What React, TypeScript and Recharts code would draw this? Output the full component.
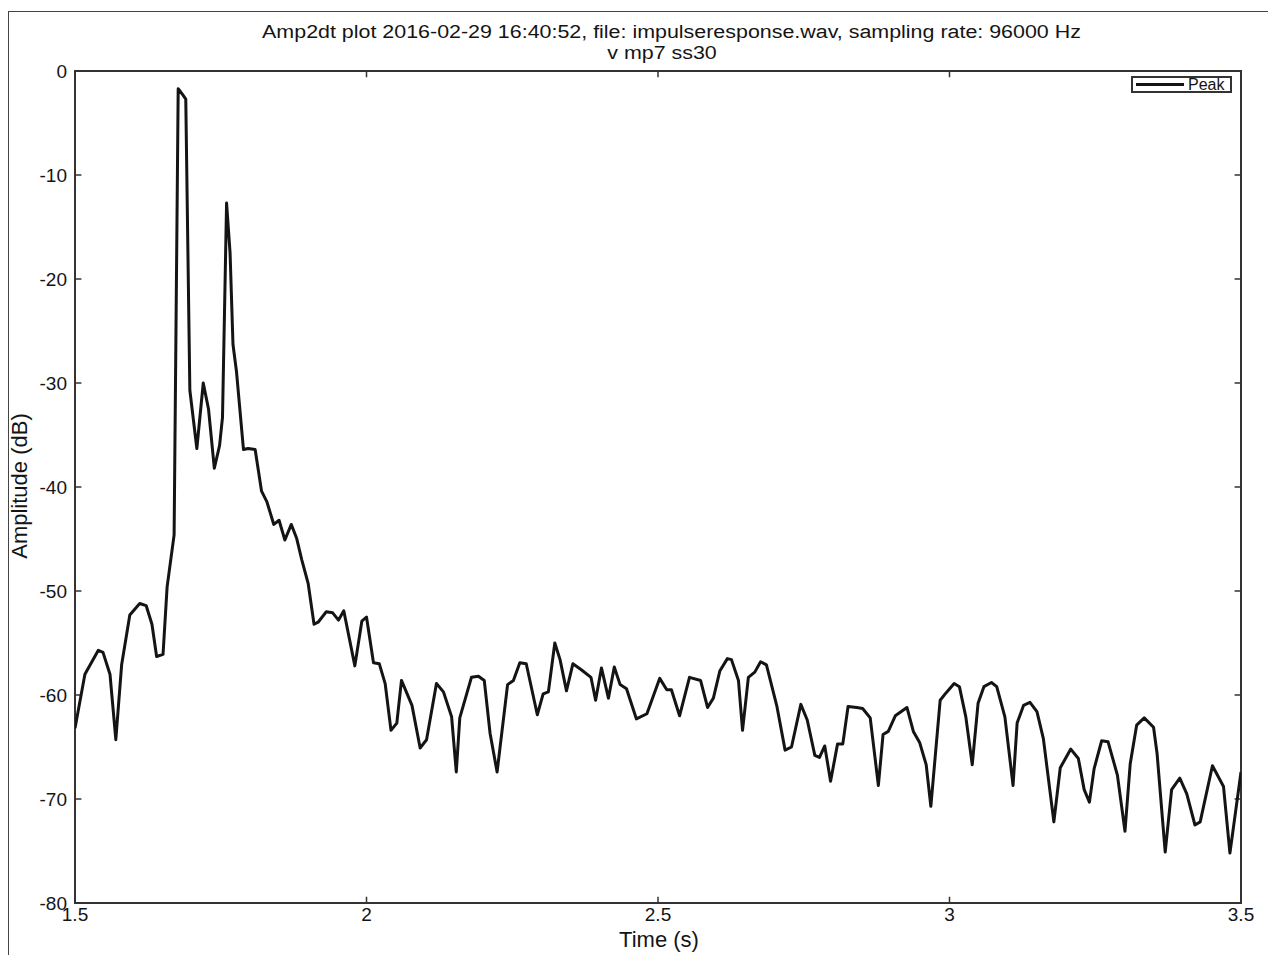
import React from "react";
import { LineChart, Line, XAxis, YAxis, Legend, ReferenceArea, ReferenceLine } from "recharts";

// time axis (s)
const timeS = [
  1.5, 1.517, 1.54, 1.548, 1.56, 1.57, 1.58, 1.594, 1.611, 1.622,
  1.632, 1.64, 1.651, 1.658, 1.67, 1.677, 1.685, 1.69, 1.697, 1.709,
  1.72, 1.729, 1.739, 1.748, 1.753, 1.76, 1.766, 1.771, 1.777, 1.789,
  1.797, 1.809, 1.82, 1.829, 1.841, 1.85, 1.86, 1.871, 1.88, 1.889,
  1.9, 1.91, 1.917, 1.931, 1.942, 1.952, 1.961, 1.98, 1.992, 2.0,
  2.012, 2.022, 2.032, 2.042, 2.052, 2.06, 2.078, 2.092, 2.103, 2.12,
  2.132, 2.146, 2.154, 2.16, 2.18, 2.192, 2.202, 2.212, 2.224, 2.242,
  2.252, 2.263, 2.274, 2.293, 2.303, 2.312, 2.323, 2.332, 2.343, 2.354,
  2.369, 2.385, 2.393, 2.403, 2.415, 2.425, 2.435, 2.446, 2.463, 2.481,
  2.503, 2.515, 2.523, 2.537, 2.554, 2.573, 2.585, 2.595, 2.606, 2.619,
  2.626, 2.638, 2.645, 2.655, 2.666, 2.676, 2.686, 2.704, 2.718, 2.729,
  2.745, 2.756, 2.769, 2.777, 2.786, 2.796, 2.808, 2.817, 2.826, 2.841,
  2.851, 2.864, 2.878, 2.886, 2.895, 2.907, 2.927, 2.938, 2.949, 2.96,
  2.968, 2.984, 2.994, 3.008, 3.017, 3.028, 3.039, 3.049, 3.059, 3.072,
  3.081, 3.095, 3.109, 3.116, 3.127, 3.138, 3.15, 3.161, 3.179, 3.19,
  3.208, 3.221, 3.231, 3.24, 3.248, 3.261, 3.272, 3.288, 3.301, 3.31,
  3.321, 3.334, 3.35, 3.356, 3.37, 3.381, 3.395, 3.407, 3.421, 3.43,
  3.451, 3.47, 3.481, 3.5,
];

// peak amplitude (dB)
const peakDb = [
  -63.2, -58.0, -55.7, -55.9, -58.0, -64.3, -57.1, -52.3, -51.2, -51.4,
  -53.2, -56.3, -56.1, -49.6, -44.6, -1.7, -2.3, -2.7, -30.7, -36.3,
  -30.0, -32.5, -38.2, -36.0, -33.3, -12.7, -17.5, -26.3, -28.9, -36.4,
  -36.3, -36.4, -40.4, -41.4, -43.6, -43.2, -45.1, -43.6, -44.9, -47.0,
  -49.3, -53.2, -53.0, -52.0, -52.1, -52.8, -51.9, -57.2, -52.9, -52.5,
  -56.9, -57.0, -58.9, -63.4, -62.7, -58.6, -61.0, -65.1, -64.3, -58.9,
  -59.7, -62.1, -67.4, -62.2, -58.3, -58.2, -58.6, -63.7, -67.4, -59.0,
  -58.6, -56.9, -57.0, -61.9, -59.9, -59.7, -55.0, -56.6, -59.6, -57.0,
  -57.6, -58.3, -60.5, -57.4, -60.3, -57.3, -59.0, -59.4, -62.3, -61.8,
  -58.4, -59.5, -59.5, -62.0, -58.3, -58.6, -61.2, -60.3, -57.7, -56.5,
  -56.6, -58.6, -63.4, -58.3, -57.8, -56.8, -57.1, -61.1, -65.3, -65.0,
  -60.9, -62.4, -65.8, -66.0, -64.9, -68.3, -64.7, -64.7, -61.1, -61.2,
  -61.3, -62.2, -68.7, -63.8, -63.5, -62.0, -61.2, -63.5, -64.6, -66.7,
  -70.7, -60.5, -59.8, -58.9, -59.2, -62.1, -66.7, -60.8, -59.2, -58.8,
  -59.2, -62.1, -68.7, -62.7, -61.0, -60.7, -61.6, -64.2, -72.2, -67.0,
  -65.2, -66.1, -69.1, -70.3, -67.1, -64.4, -64.5, -67.7, -73.1, -66.6,
  -62.9, -62.2, -63.1, -65.6, -75.1, -69.1, -68.0, -69.5, -72.5, -72.2,
  -66.8, -68.8, -75.2, -67.4,
];

const xTicks = [1.5, 2, 2.5, 3, 3.5];
const yTicks = [-80, -70, -60, -50, -40, -30, -20, -10, 0];
const xDomain: [number, number] = [1.5, 3.5];
const yDomain: [number, number] = [-80, 0];

const data = timeS.map((t, i) => ({ t, peak: peakDb[i] }));

const FONT = "'Liberation Sans', Arial, Helvetica, sans-serif";
const AXIS = "#333";
const INK = "#141414";
// inward tick length, in data units (about 6 px each way)
const X_TICK_LEN = 0.011;
const Y_TICK_LEN = 0.6;

const PeakLegend = (props: any) => {
  const item = (props.payload || []).find((p: any) => p.value === "Peak");
  return (
    <div
      style={{
        display: "flex",
        alignItems: "center",
        border: `2px solid ${AXIS}`,
        background: "#fff",
        height: 13,
        width: 97,
        fontFamily: FONT,
        fontSize: 16,
        color: INK,
        overflow: "hidden",
      }}
    >
      <span style={{ display: "inline-block", width: 48, height: 3, background: INK, marginLeft: 3, marginRight: 4 }} />
      <span style={{ lineHeight: "13px" }}>{item ? item.value : "Peak"}</span>
    </div>
  );
};

const titleStyle: React.CSSProperties = {
  position: "absolute",
  left: 0,
  textAlign: "center",
  fontFamily: FONT,
  fontSize: 18,
  lineHeight: "21px",
  color: INK,
  transform: "scaleX(1.19)",
};

export default function App() {
  const tickStroke = { stroke: AXIS, strokeWidth: 1.5 };
  return (
    <div style={{ position: "absolute", left: 0, top: 0, width: 1268, height: 955, background: "#fff", overflow: "hidden" }}>
      {/* figure frame */}
      <div style={{ position: "absolute", left: 8, top: 11, width: 1300, height: 1000, borderLeft: "1.5px solid #444", borderTop: "1.5px solid #444" }} />

      <div style={{ ...titleStyle, width: 1343, top: 22 }}>
        Amp2dt plot 2016-02-29 16:40:52, file: impulseresponse.wav, sampling rate: 96000 Hz
      </div>
      <div style={{ ...titleStyle, width: 1324, top: 43 }}>v mp7 ss30</div>

      <div style={{ position: "absolute", left: 0, top: 0 }}>
        <LineChart
          width={1268}
          height={955}
          data={data}
          margin={{ top: 71, right: 27, bottom: 0, left: 0 }}
          style={{ fontFamily: FONT }}
        >
          <XAxis
            dataKey="t"
            type="number"
            domain={xDomain}
            allowDataOverflow
            ticks={xTicks}
            height={52}
            axisLine={false}
            tickLine={false}
            tickSize={0}
            tickMargin={5}
            tick={{ fill: INK, fontSize: 19 }}
          />
          <YAxis
            type="number"
            domain={yDomain}
            allowDataOverflow
            ticks={yTicks}
            width={75}
            axisLine={false}
            tickLine={false}
            tickSize={0}
            tickMargin={8}
            tick={{ fill: INK, fontSize: 19 }}
          />

          {/* axes box */}
          <ReferenceArea
            x1={xDomain[0]}
            x2={xDomain[1]}
            y1={yDomain[0]}
            y2={yDomain[1]}
            fill="none"
            fillOpacity={0}
            stroke={AXIS}
            strokeWidth={2}
            ifOverflow="visible"
          />
          {/* inward ticks on all four sides */}
          {xTicks.map((v) => (
            <ReferenceLine key={`xb${v}`} segment={[{ x: v, y: yDomain[0] }, { x: v, y: yDomain[0] + Y_TICK_LEN }]} {...tickStroke} ifOverflow="visible" />
          ))}
          {xTicks.map((v) => (
            <ReferenceLine key={`xt${v}`} segment={[{ x: v, y: yDomain[1] }, { x: v, y: yDomain[1] - Y_TICK_LEN }]} {...tickStroke} ifOverflow="visible" />
          ))}
          {yTicks.map((v) => (
            <ReferenceLine key={`yl${v}`} segment={[{ x: xDomain[0], y: v }, { x: xDomain[0] + X_TICK_LEN, y: v }]} {...tickStroke} ifOverflow="visible" />
          ))}
          {yTicks.map((v) => (
            <ReferenceLine key={`yr${v}`} segment={[{ x: xDomain[1], y: v }, { x: xDomain[1] - X_TICK_LEN, y: v }]} {...tickStroke} ifOverflow="visible" />
          ))}

          <Legend
            layout="vertical"
            verticalAlign="middle"
            align="center"
            content={<PeakLegend />}
            wrapperStyle={{ top: 76, left: 1131, width: "auto", height: "auto" }}
          />
          <Line
            dataKey="peak"
            name="Peak"
            type="linear"
            stroke={INK}
            strokeWidth={3}
            strokeLinejoin="round"
            dot={false}
            isAnimationActive={false}
          />
        </LineChart>
      </div>

      <div style={{ position: "absolute", left: 0, width: 1318, top: 927, textAlign: "center", fontFamily: FONT, fontSize: 22, lineHeight: "26px", color: INK }}>
        Time (s)
      </div>
      <div
        style={{
          position: "absolute",
          left: 20,
          top: 486,
          transform: "translate(-50%, -50%) rotate(-90deg)",
          whiteSpace: "nowrap",
          fontFamily: FONT,
          fontSize: 22,
          color: INK,
        }}
      >
        Amplitude (dB)
      </div>
    </div>
  );
}
